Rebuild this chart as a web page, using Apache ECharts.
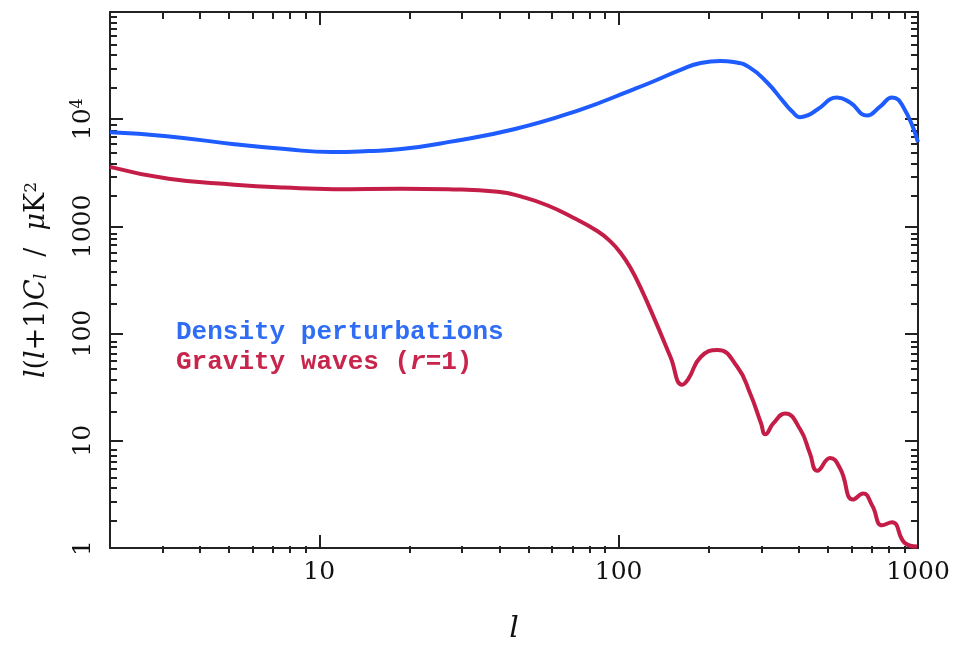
<!DOCTYPE html>
<html><head><meta charset="utf-8">
<script src="https://cdn.jsdelivr.net/npm/echarts@6/dist/echarts.min.js"></script>
<style>html,body{margin:0;padding:0;background:#fff}#c{width:954px;height:649px}</style>
</head><body><div id="c"></div>
<script>
// Density perturbations (blue)
const densityL = [2, 3.1, 5.2, 7.7, 11, 14.6, 18.8, 26.9, 44.7, 74.7, 110, 128, 161, 188, 219, 242, 275, 314, 355, 380, 404, 430, 461, 537, 593, 676, 747, 819, 891, 1000];
const densityV = [7550, 6940, 5850, 5260, 4935, 5040, 5260, 6110, 8050, 12300, 18600, 22000, 28840, 33430, 34900, 34200, 30100, 21870, 14600, 11800, 10450, 10900, 12310, 15900, 14290, 10840, 13130, 15900, 13130, 6110];
// Gravity waves r=1 (red)
const gravityL = [2, 3.14, 5.21, 7.65, 11.2, 18.8, 26.9, 39.5, 47.9, 58, 70.3, 85.1, 94, 101.6, 109.6, 118.4, 132.8, 149, 163, 171, 188, 214, 249, 275, 299, 309, 329, 360, 404, 435, 461, 509, 550, 607, 656, 703, 759, 819, 905, 993];
const gravityV = [3590, 2780, 2450, 2300, 2224, 2250, 2224, 2110, 1877, 1566, 1213, 901, 721, 565, 410, 268, 130, 60.5, 33.4, 37.9, 60.5, 70.3, 49, 27.6, 14.6, 11.5, 14.6, 18.0, 12.8, 7.7, 5.25, 6.92, 5.48, 2.83, 3.22, 2.49, 1.63, 1.74, 1.11, 1.03];
// ticks
const xMajor = [10, 100, 1000];
const xMinor = [3, 4, 5, 6, 7, 8, 9, 20, 30, 40, 50, 60, 70, 80, 90, 200, 300, 400, 500, 600, 700, 800, 900];
const yMajor = [1, 10, 100, 1000, 10000, 100000];
const yLabels = [1, 10, 100, 1000, 10000];
const yMinor = [2, 3, 4, 5, 6, 7, 8, 9, 20, 30, 40, 50, 60, 70, 80, 90, 200, 300, 400, 500, 600, 700, 800, 900,
  2000, 3000, 4000, 5000, 6000, 7000, 8000, 9000, 20000, 30000, 40000, 50000, 60000, 70000, 80000, 90000];
const seriesNames = ['Density perturbations', 'Gravity waves (r=1)'];

const axisColor = '#222';
const serif = 'DejaVu Serif';
const zip = (a, b) => a.map((v, i) => [v, b[i]]);

function xAx(grid, pos, ticks, len, labels, extra) {
  return Object.assign({
    type: 'log', logBase: 10, min: 2, max: 1000, gridIndex: grid, position: pos,
    axisLine: { show: grid === 0, lineStyle: { color: axisColor, width: 2 } },
    axisTick: { inside: true, length: len, customValues: ticks, lineStyle: { color: axisColor, width: 2 } },
    axisLabel: labels ? { customValues: labels, fontFamily: serif, fontSize: 25, color: '#111', margin: 12,
      formatter: v => String(v) } : { show: false },
    splitLine: { show: false }, minorTick: { show: false }
  }, extra || {});
}
function yAx(grid, pos, ticks, len, labels, extra) {
  return Object.assign({
    type: 'log', logBase: 10, min: 1, max: 100000, gridIndex: grid, position: pos,
    axisLine: { show: grid === 0, lineStyle: { color: axisColor, width: 2 } },
    axisTick: { inside: true, length: len, customValues: ticks, lineStyle: { color: axisColor, width: 2 } },
    axisLabel: labels ? {
      customValues: labels, rotate: 90, fontFamily: serif, fontSize: 25, color: '#111', margin: 14,
      formatter: v => v >= 10000 ? '10{sup|' + Math.round(Math.log10(v)) + '}' : String(v),
      rich: { sup: { fontFamily: serif, fontSize: 16, color: '#111', verticalAlign: 'top', padding: [0, 0, 10, 0] } }
    } : { show: false },
    splitLine: { show: false }, minorTick: { show: false }
  }, extra || {});
}

const chart = echarts.init(document.getElementById('c'), null, { renderer: 'canvas' });
chart.setOption({
  animation: false,
  backgroundColor: '#fff',
  grid: [
    { left: 110, right: 36, top: 12, bottom: 96 },
    { left: 110, right: 36, top: 12, bottom: 96 }
  ],
  legend: {
    orient: 'vertical', left: 166, top: 313, itemGap: 2, icon: 'rect', itemWidth: 0, itemHeight: 0,
    selectedMode: false,
    textStyle: { fontFamily: 'Liberation Mono', fontWeight: 'bold', fontSize: 26, lineHeight: 28,
      rich: { i: { fontFamily: 'Liberation Mono', fontWeight: 'bold', fontStyle: 'italic', fontSize: 26, color: '#c8254c' } } },
    formatter: n => n.replace('(r=', '({i|r}='),
    data: [
      { name: seriesNames[0], textStyle: { color: '#2f6df5' } },
      { name: seriesNames[1], textStyle: { color: '#c8254c' } }
    ]
  },
  xAxis: [
    xAx(0, 'bottom', xMajor, 13, xMajor, {
      name: 'l', nameLocation: 'middle', nameGap: 66,
      nameTextStyle: { fontFamily: serif, fontStyle: 'italic', fontSize: 30, color: '#111' }
    }),
    xAx(0, 'top', xMajor, 13, null),
    xAx(1, 'bottom', xMinor, 7, null),
    xAx(1, 'top', xMinor, 7, null)
  ],
  yAxis: [
    yAx(0, 'left', yMajor, 13, yLabels, {
      name: '{i|l}({i|l}+1){i|C}{sub|l}  /  {i|μ}K{sup|2}', nameLocation: 'middle', nameGap: 60, nameRotate: 90,
      nameTextStyle: {
        fontFamily: serif, fontSize: 27, color: '#111',
        rich: {
          i: { fontFamily: serif, fontStyle: 'italic', fontSize: 27, color: '#111' },
          sub: { fontFamily: serif, fontStyle: 'italic', fontSize: 17, color: '#111', verticalAlign: 'bottom', padding: [8, 0, 0, 0] },
          sup: { fontFamily: serif, fontSize: 17, color: '#111', verticalAlign: 'top', padding: [0, 0, 10, 0] }
        }
      }
    }),
    yAx(0, 'right', yMajor, 13, null),
    yAx(1, 'left', yMinor, 7, null),
    yAx(1, 'right', yMinor, 7, null)
  ],
  series: [
    { name: seriesNames[0], type: 'line', xAxisIndex: 0, yAxisIndex: 0, data: zip(densityL, densityV),
      showSymbol: false, smooth: 0.5, lineStyle: { color: '#1f5cff', width: 4 }, itemStyle: { color: '#1f5cff' } },
    { name: seriesNames[1], type: 'line', xAxisIndex: 0, yAxisIndex: 0, data: zip(gravityL, gravityV),
      showSymbol: false, smooth: 0.5, lineStyle: { color: '#c41e48', width: 4 }, itemStyle: { color: '#c41e48' } }
  ]
});
</script>
</body></html>
